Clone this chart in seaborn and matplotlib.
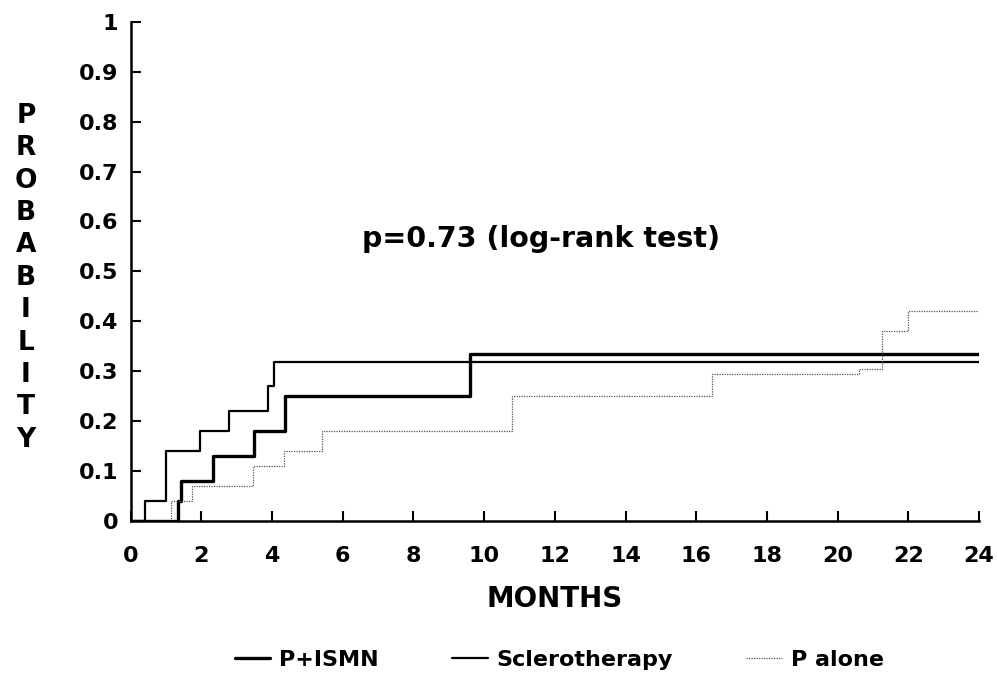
import pandas as pd
import matplotlib
matplotlib.use('Agg')
import matplotlib.pyplot as plt
import seaborn as sns

# step curves (month of event, cumulative probability after it)
ismn_t = [0, 1.33, 1.43, 2.33, 3.5, 4.36, 9.6, 24]
ismn_p = [0, 0.04, 0.08, 0.13, 0.18, 0.25, 0.335, 0.335]

sclero_t = [0, 0.4, 1.0, 1.95, 2.77, 3.88, 4.05, 24]
sclero_p = [0, 0.04, 0.14, 0.18, 0.22, 0.27, 0.318, 0.318]

alone_t = [0, 1.15, 1.75, 3.46, 4.33, 5.4, 10.8, 16.45, 20.6, 21.26, 22.0, 24]
alone_p = [0, 0.04, 0.07, 0.11, 0.14, 0.18, 0.25, 0.295, 0.305, 0.38, 0.42, 0.42]

x_ticks = list(range(0, 25, 2))
y_ticks = [0, 0.1, 0.2, 0.3, 0.4, 0.5, 0.6, 0.7, 0.8, 0.9, 1]
y_labels = ['0', '0.1', '0.2', '0.3', '0.4', '0.5', '0.6', '0.7', '0.8', '0.9', '1']

sns.set_style('ticks', {'text.color': 'black', 'axes.edgecolor': 'black',
                        'xtick.color': 'black', 'ytick.color': 'black',
                        'axes.labelcolor': 'black'})
plt.rcParams['font.family'] = ['DejaVu Sans']
plt.rcParams['font.weight'] = 'bold'

fig = plt.figure(figsize=(9.97, 6.81), dpi=100)
ax = fig.add_axes([0.131, 0.235, 0.851, 0.733])

sns.lineplot(x=ismn_t, y=ismn_p, ax=ax, color='black', linewidth=2.4,
             drawstyle='steps-post', sort=False, label='P+ISMN')
sns.lineplot(x=sclero_t, y=sclero_p, ax=ax, color='black', linewidth=1.6,
             drawstyle='steps-post', sort=False, label='Sclerotherapy')
sns.lineplot(x=alone_t, y=alone_p, ax=ax, color='#555555', linewidth=0.9,
             linestyle=(0, (1, 1)), drawstyle='steps-post', sort=False, label='P alone')

ax.set_xlim(0, 24)
ax.set_ylim(0, 1)
ax.set_xticks(x_ticks)
ax.set_yticks(y_ticks)
ax.set_yticklabels(y_labels)
ax.tick_params(direction='in', length=7, width=1.5, labelsize=16)
ax.tick_params(axis='x', pad=18)
ax.tick_params(axis='y', pad=9)
for lab in ax.get_xticklabels() + ax.get_yticklabels():
    lab.set_fontweight('bold')
sns.despine(ax=ax)
ax.spines['left'].set_linewidth(1.8)
ax.spines['bottom'].set_linewidth(1.8)

ax.set_xlabel('MONTHS', fontsize=20, fontweight='bold', labelpad=14)
ax.set_ylabel('')
fig.text(0.026, 0.592, '\n'.join('PROBABILITY'), fontsize=19, fontweight='bold',
         ha='center', va='center', linespacing=1.32)

ax.text(11.6, 0.565, 'p=0.73 (log-rank test)', fontsize=20.5, fontweight='bold',
        ha='center', va='center')

ax.legend(loc='center', bbox_to_anchor=(0.505, -0.279), ncol=3, frameon=False,
          handlelength=1.6, handletextpad=0.4, columnspacing=3.3,
          prop={'weight': 'bold', 'size': 16})

fig.savefig('out.png', dpi=100)
